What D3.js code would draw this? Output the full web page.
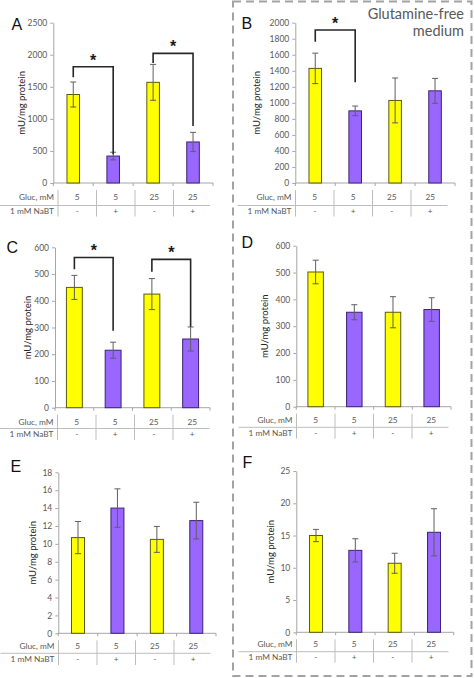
<!DOCTYPE html>
<html>
<head>
<meta charset="utf-8">
<script src="https://cdn.jsdelivr.net/npm/d3@7/dist/d3.min.js"></script>
<style>
  html, body { margin: 0; padding: 0; background: #fff; }
  svg { display: block; font-family: Lato, "Open Sans", sans-serif; }
</style>
</head>
<body>
<svg id="chart" width="474" height="678"></svg>
<script>
// ---------------- DATA ----------------
const glucose = ["5", "5", "25", "25"];
const nabt = ["-", "+", "-", "+"];
const rowLabels = ["Gluc, mM", "1 mM NaBT"];
const yLabel = "mU/mg protein";
const mediumNote = ["Glutamine-free", "medium"];
const panelLetters = ["A", "B", "C", "D", "E", "F"];

const valuesA = [1380, 420, 1570, 640];
const errorsA = [195, 60, 280, 150];
const valuesB = [1430, 900, 1030, 1150];
const errorsB = [190, 60, 280, 155];
const valuesC = [450, 215, 425, 257];
const errorsC = [45, 30, 58, 45];
const valuesD = [502, 352, 352, 362];
const errorsD = [44, 28, 58, 44];
const valuesE = [10.7, 14.0, 10.5, 12.6];
const errorsE = [1.8, 2.15, 1.45, 2.05];
const valuesF = [15.0, 12.7, 10.7, 15.5];
const errorsF = [0.95, 1.8, 1.55, 3.65];

const ticksA = [0, 500, 1000, 1500, 2000, 2500];
const ticksB = [0, 200, 400, 600, 800, 1000, 1200, 1400, 1600, 1800, 2000];
const ticksC = [0, 100, 200, 300, 400, 500, 600];
const ticksD = [0, 100, 200, 300, 400, 500, 600];
const ticksE = [0, 2, 4, 6, 8, 10, 12, 14, 16, 18];
const ticksF = [0, 5, 10, 15, 20, 25];

// significance brackets: [from bar, to bar, bracket top, left leg end, right leg end] (data units)
const bracketsA = [[0, 1, 1814, 1650, 450], [2, 3, 2022, 1871, 889]];
const bracketsB = [[0, 1, 1909, 1763, 1256]];
const bracketsC = [[0, 1, 562, 518, 288], [2, 3, 555, 509, 303]];
const bracketsD = [];
const bracketsE = [];
const bracketsF = [];

// ---------------- LAYOUT ----------------
const layout = [
  {ax: 53.3, ar: 213, yt: 22.7, yb: 183, pad: 0.685, lblOff: 30.5, L: 58, r1: 198, ln: 205.5, r2: 211.5, lx: 11.5, ly: 29.5},
  {ax: 295.3, ar: 455, yt: 22.7, yb: 183, pad: 0.685, lblOff: 37.5, L: 295.5, r1: 198, ln: 205.5, r2: 211.5, lx: 241.5, ly: 28.5},
  {ax: 55, ar: 210, yt: 247.3, yb: 407.7, pad: 0.59, lblOff: 26.5, L: 57.5, r1: 422.5, ln: 428.5, r2: 435, lx: 6.5, ly: 252.7},
  {ax: 296.3, ar: 451, yt: 245.7, yb: 406.7, pad: 0.6, lblOff: 31, L: 296.5, r1: 421, ln: 427.3, r2: 433.5, lx: 241.5, ly: 248.3},
  {ax: 58.3, ar: 216, yt: 472.3, yb: 633.3, pad: 0.67, lblOff: 25, L: 58.5, r1: 646.7, ln: 653.3, r2: 660, lx: 10.5, ly: 472.3},
  {ax: 296.3, ar: 453.7, yt: 471, yb: 632.3, pad: 0.67, lblOff: 24.3, L: 296.5, r1: 645, ln: 651.7, r2: 657.7, lx: 242.5, ly: 468.3}
];

const panels = [
  {values: valuesA, errors: errorsA, ticks: ticksA, brackets: bracketsA},
  {values: valuesB, errors: errorsB, ticks: ticksB, brackets: bracketsB},
  {values: valuesC, errors: errorsC, ticks: ticksC, brackets: bracketsC},
  {values: valuesD, errors: errorsD, ticks: ticksD, brackets: bracketsD},
  {values: valuesE, errors: errorsE, ticks: ticksE, brackets: bracketsE},
  {values: valuesF, errors: errorsF, ticks: ticksF, brackets: bracketsF}
];

const fills = ["#ffff00", "#9966ff", "#ffff00", "#9966ff"];
const strokes = ["#5a5a10", "#3b2470", "#5a5a10", "#3b2470"];
const axisColor = "#a6a6a6";
const textGray = "#595959";

const svg = d3.select("#chart");

// dashed frame around glutamine-free panels
svg.append("rect")
  .attr("x", 233).attr("y", 1.5).attr("width", 238.5).attr("height", 674.5)
  .attr("fill", "none").attr("stroke", "#a3a3a3").attr("stroke-width", 2)
  .attr("stroke-dasharray", "8,5");

svg.append("g").selectAll("text").data(mediumNote).join("text")
  .attr("x", 464).attr("y", (d, i) => 18.5 + i * 17.5)
  .attr("text-anchor", "end").attr("font-size", 14.5).attr("fill", textGray)
  .text(d => d);

panels.forEach((p, pi) => {
  const g = layout[pi];
  const idx = d3.range(p.values.length);
  const x = d3.scaleBand().domain(idx).range([g.ax, g.ar]).paddingInner(g.pad).paddingOuter(g.pad / 2);
  const yMax = p.ticks[p.ticks.length - 1];
  const y = d3.scaleLinear().domain([0, yMax]).range([g.yb, g.yt]);
  const root = svg.append("g");

  // y axis
  const yAxis = root.append("g").attr("transform", `translate(${g.ax},0)`)
    .call(d3.axisLeft(y).tickValues(p.ticks).tickSize(3).tickSizeOuter(0).tickPadding(3).tickFormat(d3.format("d")));
  yAxis.select(".domain").attr("stroke", axisColor);
  yAxis.selectAll(".tick line").attr("stroke", axisColor);
  yAxis.selectAll(".tick text").attr("fill", textGray).attr("font-size", 8.5).attr("font-family", "Lato, sans-serif");

  // x axis line with boundary ticks
  root.append("line").attr("x1", g.ax).attr("x2", g.ar).attr("y1", g.yb).attr("y2", g.yb)
    .attr("stroke", axisColor);
  const bounds = d3.range(idx.length + 1).map(i => g.ax + i * x.step());
  root.selectAll(".xt").data(bounds).join("line")
    .attr("x1", d => d).attr("x2", d => d).attr("y1", g.yb).attr("y2", g.yb + 3)
    .attr("stroke", axisColor);

  // y label
  root.append("text")
    .attr("transform", `translate(${g.ax - g.lblOff},${(g.yt + g.yb) / 2}) rotate(-90)`)
    .attr("text-anchor", "middle").attr("dominant-baseline", "middle")
    .attr("font-size", 9.5).attr("fill", "#262626").text(yLabel);

  // bars
  root.selectAll(".bar").data(p.values).join("rect")
    .attr("x", (d, i) => x(i)).attr("width", x.bandwidth())
    .attr("y", d => y(d)).attr("height", d => g.yb - y(d))
    .attr("fill", (d, i) => fills[i]).attr("stroke", (d, i) => strokes[i]).attr("stroke-width", 1);

  // error bars
  const eg = root.append("g").attr("stroke", "#5f5f5f").attr("stroke-width", 1);
  idx.forEach(i => {
    const cx = x(i) + x.bandwidth() / 2;
    const hi = y(p.values[i] + p.errors[i]);
    const lo = y(p.values[i] - p.errors[i]);
    eg.append("line").attr("x1", cx).attr("x2", cx).attr("y1", hi).attr("y2", lo);
    eg.append("line").attr("x1", cx - 3).attr("x2", cx + 3).attr("y1", hi).attr("y2", hi);
    eg.append("line").attr("x1", cx - 3).attr("x2", cx + 3).attr("y1", lo).attr("y2", lo);
  });

  // significance brackets
  p.brackets.forEach(b => {
    const x1 = x(b[0]) + x.bandwidth() / 2;
    const x2 = x(b[1]) + x.bandwidth() / 2;
    const top = y(b[2]);
    root.append("path")
      .attr("d", `M${x1},${y(b[3])}V${top}H${x2}V${y(b[4])}`)
      .attr("fill", "none").attr("stroke", "#262626").attr("stroke-width", 1.6);
    root.append("text").attr("x", (x1 + x2) / 2).attr("y", top - 10 + 9)
      .attr("text-anchor", "middle").attr("font-size", 16).attr("font-weight", "bold")
      .attr("font-family", "Liberation Sans, Arial, sans-serif")
      .attr("fill", "#1a1a1a").text("*");
  });

  // panel letter
  root.append("text").attr("x", g.lx).attr("y", g.ly).attr("font-size", 16)
    .attr("font-family", "Liberation Sans, Arial, sans-serif").attr("fill", "#111")
    .text(panelLetters[pi]);

  // table under the axis
  const cw = 38.5;
  const tx = d3.scaleBand().domain(idx).range([g.L, g.L + cw * idx.length]);
  const tableColor = "#bdbdbd";
  root.append("line").attr("x1", g.L - 58).attr("x2", g.L + 152).attr("y1", g.ln).attr("y2", g.ln)
    .attr("stroke", tableColor);
  const seps = d3.range(idx.length).map(i => tx(i));
  root.selectAll(".sep").data(seps).join("line")
    .attr("x1", d => d).attr("x2", d => d).attr("y1", g.yb + 7).attr("y2", g.r2 + 5)
    .attr("stroke", tableColor);
  const rows = [glucose, nabt];
  const rowY = [g.r1, g.r2];
  rows.forEach((row, ri) => {
    root.append("text").attr("x", g.L - 4).attr("y", rowY[ri]).attr("text-anchor", "end")
      .attr("dominant-baseline", "middle").attr("font-size", 8.3).attr("fill", textGray)
      .text(rowLabels[ri]);
    root.selectAll(".cell" + ri).data(row).join("text")
      .attr("x", (d, i) => tx(i) + tx.bandwidth() / 2).attr("y", rowY[ri])
      .attr("text-anchor", "middle").attr("dominant-baseline", "middle")
      .attr("font-size", 8.3).attr("fill", textGray).text(d => d);
  });
});
</script>
</body>
</html>
